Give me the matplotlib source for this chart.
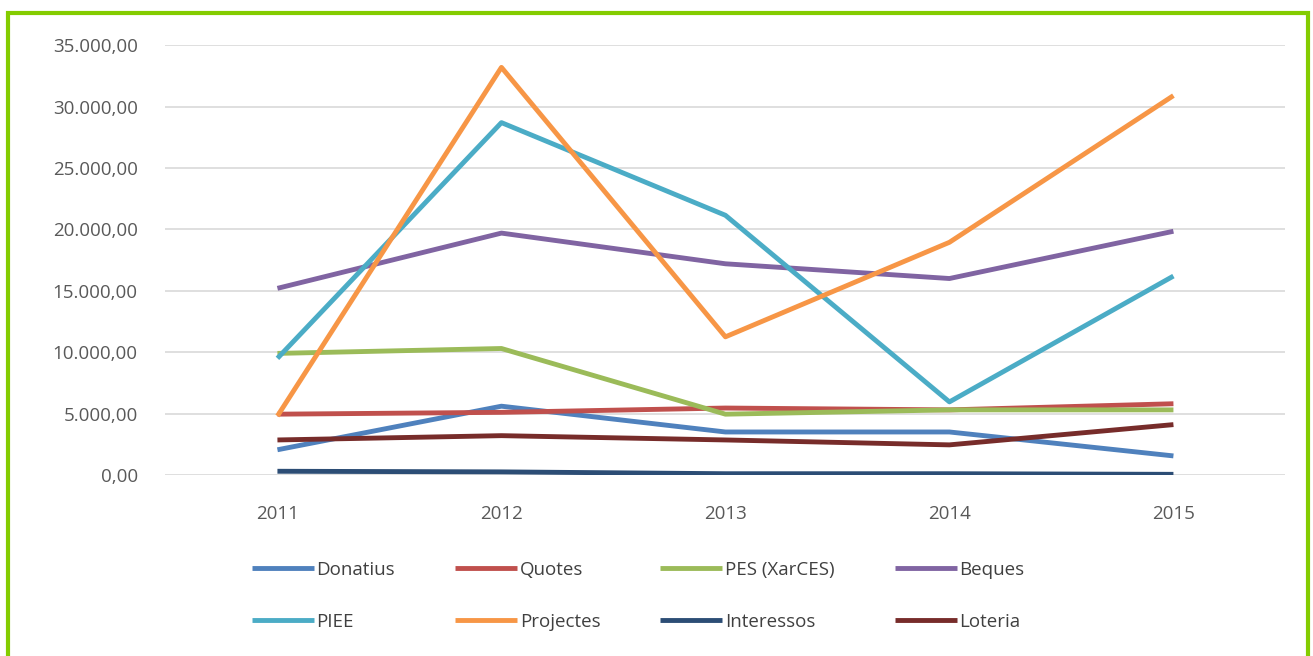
import matplotlib.pyplot as plt
from matplotlib.patches import Rectangle
from matplotlib.ticker import FuncFormatter

years = ["2011", "2012", "2013", "2014", "2015"]

donatius = [2050, 5600, 3500, 3500, 1550]
quotes = [4950, 5100, 5450, 5300, 5800]
pes = [9900, 10300, 4950, 5300, 5300]
beques = [15200, 19700, 17200, 16000, 19850]
piee = [9500, 28700, 21150, 5950, 16200]
projectes = [4800, 33200, 11250, 18950, 30900]
interessos = [300, 250, 100, 100, 50]
loteria = [2850, 3200, 2850, 2450, 4100]

series = [
    ("Donatius", donatius, "#4F81BD"),
    ("Quotes", quotes, "#C0504D"),
    ("PES (XarCES)", pes, "#9BBB59"),
    ("Beques", beques, "#8064A2"),
    ("PIEE", piee, "#4BACC6"),
    ("Projectes", projectes, "#F79646"),
    ("Interessos", interessos, "#2C4D75"),
    ("Loteria", loteria, "#772C2A"),
]

plt.rcParams["font.family"] = ["Open Sans", "DejaVu Sans"]

fig = plt.figure(figsize=(13.13, 6.56), dpi=100)
ax = fig.add_axes([0.126, 0.276, 0.853, 0.655])

x = list(range(len(years)))
lines = []
for label, vals, color in series:
    ln, = ax.plot(x, vals, color=color, linewidth=3.5, label=label,
                  solid_capstyle="butt", solid_joinstyle="round")
    lines.append(ln)

ax.set_xlim(-0.5, 4.5)
ax.set_ylim(0, 35000)
ax.set_yticks(range(0, 35001, 5000))
ax.yaxis.set_major_formatter(FuncFormatter(
    lambda v, p: f"{v:,.2f}".replace(",", "X").replace(".", ",").replace("X", ".")))
ax.set_xticks(x)
ax.set_xticklabels(years)
ax.tick_params(length=0, labelsize=13.5, colors="#595959")
ax.tick_params(axis="x", pad=22)
ax.tick_params(axis="y", pad=20)
ax.grid(axis="y", color="#D9D9D9", linewidth=1.2)
ax.set_axisbelow(True)
for s in ax.spines.values():
    s.set_visible(False)

# legend is filled row by row in the reference
order = [0, 4, 1, 5, 2, 6, 3, 7]
fig.legend([lines[i] for i in order], [series[i][0] for i in order],
           loc="lower center", bbox_to_anchor=(0.486, 0.013), ncol=4,
           frameon=False, fontsize=13.5, handlelength=3.3, handletextpad=0.15,
           columnspacing=3.2, labelcolor="#404040", labelspacing=1.8)

fig.patches.append(Rectangle((0.006, -0.01), 0.99, 0.99, transform=fig.transFigure,
                             fill=False, edgecolor="#84CC00", linewidth=3))

fig.savefig("out.png", dpi=100)
